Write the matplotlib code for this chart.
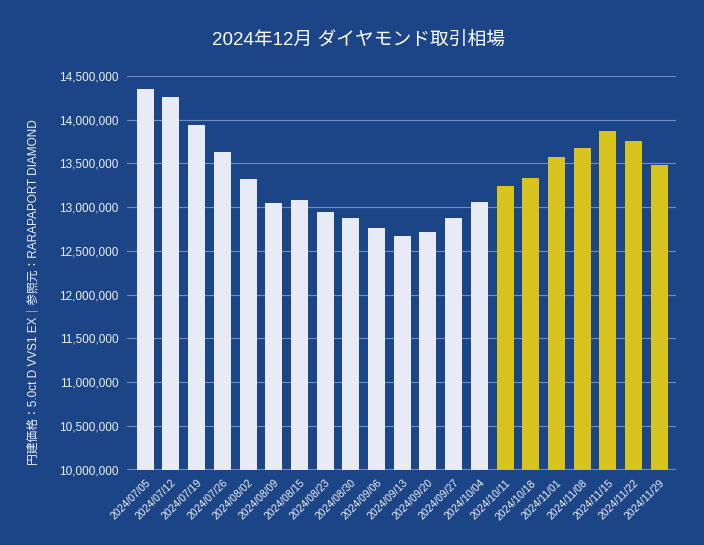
import matplotlib
matplotlib.use("Agg")
import matplotlib.pyplot as plt
from matplotlib.ticker import FuncFormatter, MultipleLocator

plt.rcParams['font.family'] = ['Liberation Sans', 'Noto Sans CJK JP', 'DejaVu Sans']

# weekly dates and prices (yen)
dates = [
    "2024/07/05", "2024/07/12", "2024/07/19", "2024/07/26", "2024/08/02",
    "2024/08/09", "2024/08/15", "2024/08/23", "2024/08/30", "2024/09/06",
    "2024/09/13", "2024/09/20", "2024/09/27", "2024/10/04", "2024/10/11",
    "2024/10/18", "2024/11/01", "2024/11/08", "2024/11/15", "2024/11/22",
    "2024/11/29",
]
prices = [
    14350000, 14260000, 13940000, 13630000, 13320000,
    13050000, 13080000, 12940000, 12880000, 12760000,
    12670000, 12720000, 12880000, 13060000, 13240000,
    13330000, 13570000, 13680000, 13870000, 13760000,
    13480000,
]
# bars from 2024/10/11 on are highlighted
highlight_from = 14

BG = "#1c4587"
BAR_LIGHT = "#e8ebf5"
BAR_GOLD = "#d7c21e"
GRID = "#6f8dbf"
TEXT = "#eef0f7"

fig = plt.figure(figsize=(7.04, 5.45), dpi=100, facecolor=BG)
ax = fig.add_axes([127 / 704, 1 - 469.5 / 545, (676 - 127) / 704, (469.5 - 76) / 545])
ax.set_facecolor(BG)

colors = [BAR_GOLD if i >= highlight_from else BAR_LIGHT for i in range(len(dates))]
ax.bar(range(len(dates)), prices, width=0.66, color=colors, zorder=3)

ax.set_ylim(10000000, 14500000)
ax.set_xlim(-0.71, 20.65)
ax.yaxis.set_major_locator(MultipleLocator(500000))
ax.yaxis.set_major_formatter(FuncFormatter(lambda v, p: f"{int(v):,}"))
ax.grid(axis="y", color=GRID, linewidth=0.8, zorder=0)

ax.set_xticks(range(len(dates)))
ax.set_xticklabels(dates, rotation=45, ha="right", rotation_mode="anchor")
ax.tick_params(axis="x", length=0, pad=6, labelsize=7.5, labelcolor=TEXT)
ax.tick_params(axis="y", length=0, pad=6, labelsize=8.5, labelcolor=TEXT)
for s in ax.spines.values():
    s.set_visible(False)

fig.text(359 / 704, 1 - 40 / 545, "2024年12月 ダイヤモンド取引相場",
         ha="center", va="center", fontsize=13.5, color="white")
fig.text(33 / 704, 1 - 292 / 545,
         "円建価格：5.0ct D VVS1 EX｜参照元：RARAPAPORT DIAMOND",
         rotation=90, ha="center", va="center", fontsize=8.5, color=TEXT)

fig.savefig("out.png", dpi=100, facecolor=BG)
